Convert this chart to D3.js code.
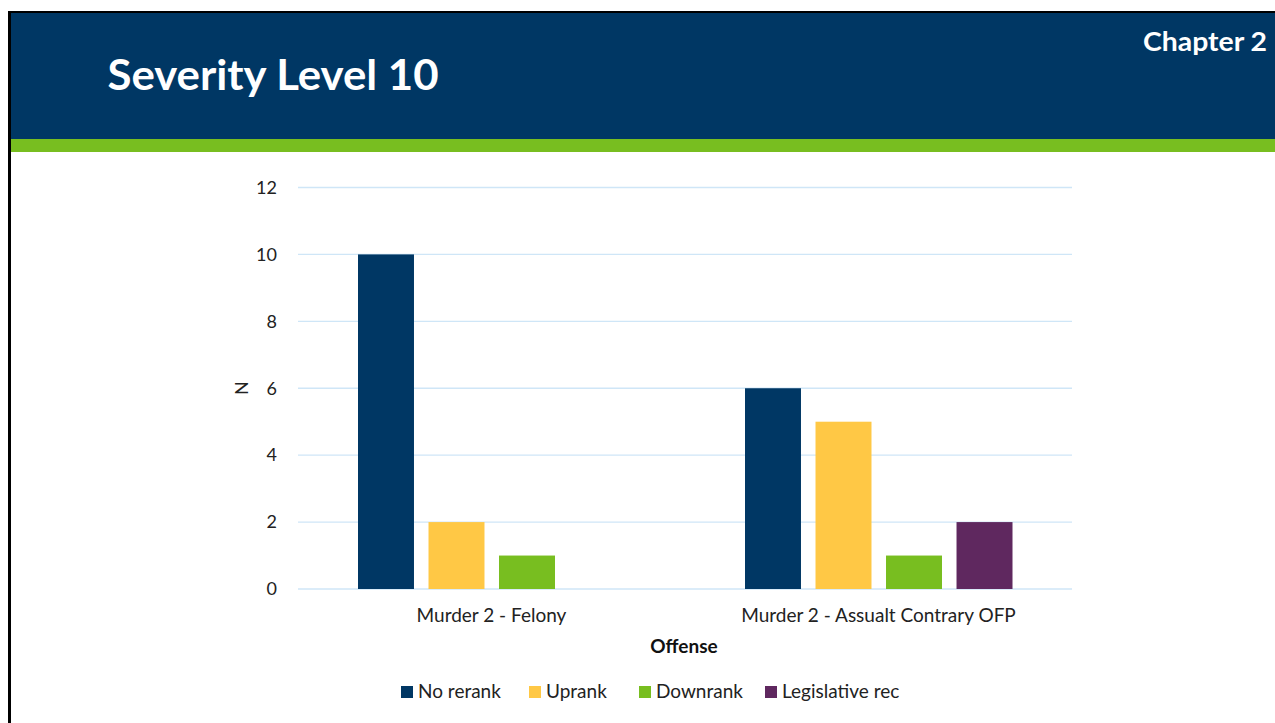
<!DOCTYPE html>
<html><head><meta charset="utf-8">
<script src="https://cdn.jsdelivr.net/npm/d3@7"></script>
<style>body{margin:0;background:#fff;}svg{display:block;font-family:Lato, "Open Sans", sans-serif;}</style>
</head><body>
<svg id="c" width="1275" height="723"></svg>
<script>
const categories = ["Murder 2 - Felony", "Murder 2 - Assualt Contrary OFP"];
const seriesNames = ["No rerank", "Uprank", "Downrank", "Legislative rec"];
const noRerank = [10, 6];
const uprank = [2, 5];
const downrank = [1, 1];
const legislativeRec = [0, 2];
const yTicks = [0, 2, 4, 6, 8, 10, 12];
const colors = ["#003764", "#FFC845", "#78BE20", "#5F285F"];

const seriesValues = [noRerank, uprank, downrank, legislativeRec];
const data = categories.map((c, i) => ({cat: c, vals: seriesNames.map((s, j) => ({s, v: seriesValues[j][i]}))}));

const svg = d3.select("#c");
// slide frame
svg.append("rect").attr("x", 8).attr("y", 11).attr("width", 1267).attr("height", 712).attr("fill", "#fff");
svg.append("rect").attr("x", 8).attr("y", 11).attr("width", 1267).attr("height", 2).attr("fill", "#000");
svg.append("rect").attr("x", 8).attr("y", 11).attr("width", 3).attr("height", 712).attr("fill", "#000");
svg.append("rect").attr("x", 11).attr("y", 13).attr("width", 1264).attr("height", 126).attr("fill", "#003764");
svg.append("rect").attr("x", 11).attr("y", 139).attr("width", 1264).attr("height", 13).attr("fill", "#78BE20");
svg.append("text").attr("x", 107.5).attr("y", 89.5).attr("fill", "#fff").attr("font-weight", "bold")
  .attr("font-size", 42).attr("textLength", 331).attr("lengthAdjust", "spacingAndGlyphs").text("Severity Level 10");
svg.append("text").attr("x", 1143).attr("y", 51).attr("fill", "#fff").attr("font-weight", "bold")
  .attr("font-size", 26).attr("textLength", 124).attr("lengthAdjust", "spacingAndGlyphs").text("Chapter 2");

const pLeft = 298, pRight = 1072, pTop = 187.5, pBottom = 589;
const y = d3.scaleLinear().domain([0, 12]).range([pBottom, pTop]);
const x0 = d3.scaleBand().domain(categories).range([pLeft, pRight]).paddingInner(0).paddingOuter(0);
const x1 = d3.scaleBand().domain(seriesNames).range([60, 327.5]).paddingInner(0.206).paddingOuter(0);

const g = svg.append("g");
g.selectAll(".grid").data(yTicks).enter().append("line")
  .attr("x1", pLeft).attr("x2", pRight).attr("y1", d => y(d)).attr("y2", d => y(d))
  .attr("stroke", "#cfe6f7").attr("stroke-width", 1.3);

const yAxis = g.append("g").attr("transform", `translate(${pLeft},0)`)
  .call(d3.axisLeft(y).tickValues(yTicks).tickSize(0).tickPadding(21));
yAxis.select(".domain").remove();
yAxis.selectAll("text").attr("font-size", 18).attr("fill", "#222").attr("font-family", "Lato, sans-serif");

const groups = g.selectAll(".grp").data(data).enter().append("g")
  .attr("transform", d => `translate(${x0(d.cat)},0)`);
groups.selectAll("rect").data(d => d.vals).enter().append("rect")
  .attr("x", d => x1(d.s)).attr("width", x1.bandwidth())
  .attr("y", d => y(d.v)).attr("height", d => y(0) - y(d.v))
  .attr("fill", (d, i) => colors[i]);

const xAxis = g.append("g").attr("transform", `translate(0,${pBottom})`)
  .call(d3.axisBottom(x0).tickSize(0).tickPadding(20));
xAxis.select(".domain").remove();
xAxis.selectAll("text").attr("font-size", 19).attr("fill", "#222").attr("font-family", "Lato, sans-serif");

svg.append("text").attr("x", 684).attr("y", 653).attr("text-anchor", "middle").attr("font-weight", "bold")
  .attr("font-size", 19).attr("fill", "#111").text("Offense");
svg.append("text").attr("transform", "translate(248,388) rotate(-90)").attr("text-anchor", "middle")
  .attr("font-size", 18).attr("fill", "#222").text("N");

const legendX = [401, 529, 639, 765];
const lg = svg.selectAll(".lg").data(seriesNames).enter().append("g")
  .attr("transform", (d, i) => `translate(${legendX[i]},686)`);
lg.append("rect").attr("width", 12).attr("height", 12).attr("fill", (d, i) => colors[i]);
lg.append("text").attr("x", 17).attr("y", 11.5).attr("font-size", 19).attr("fill", "#222").text(d => d);
</script>
</body></html>
